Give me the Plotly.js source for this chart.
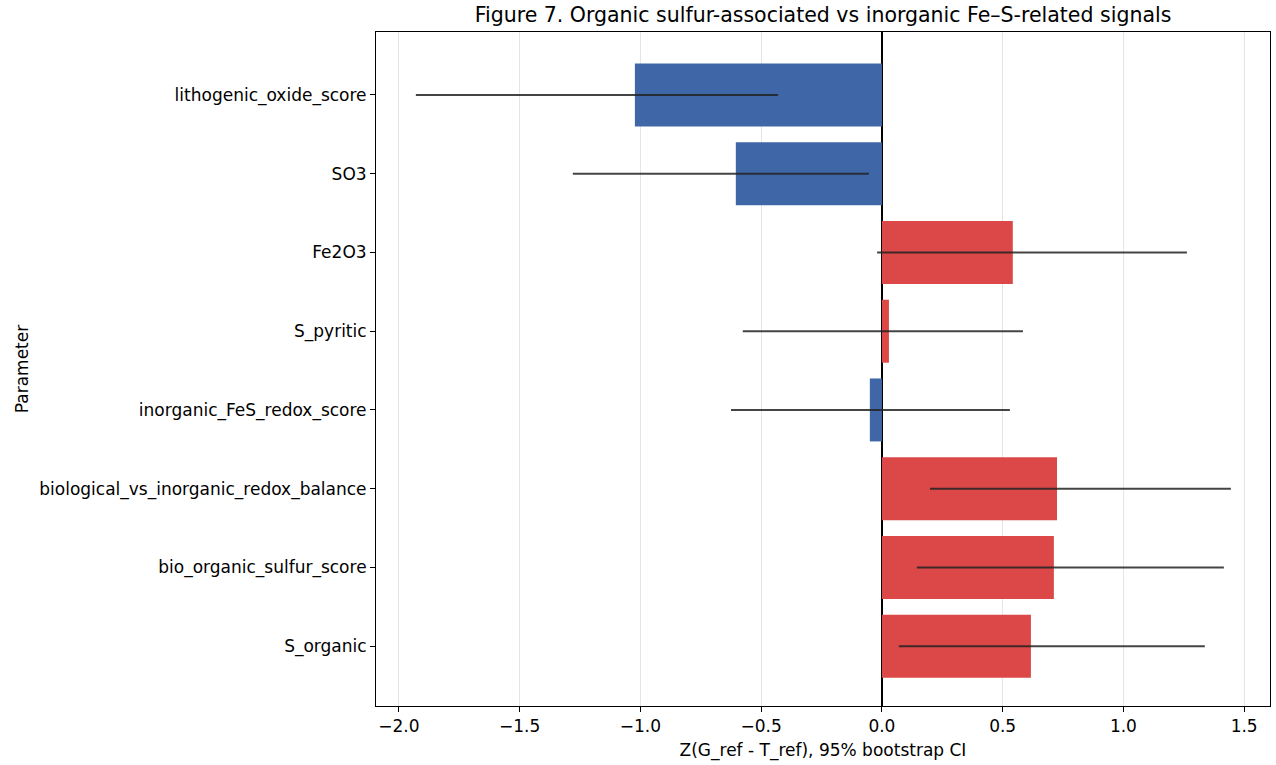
<!DOCTYPE html>
<html>
<head>
<meta charset="utf-8">
<script src="https://cdn.plot.ly/plotly-3.0.1.min.js"></script>
<style>html,body{margin:0;padding:0;background:#fff;}#chart{width:1276px;height:765px;}</style>
</head>
<body>
<div id="chart"></div>
<script>
const parameters = ["lithogenic_oxide_score","SO3","Fe2O3","S_pyritic","inorganic_FeS_redox_score","biological_vs_inorganic_redox_balance","bio_organic_sulfur_score","S_organic"];
const zValues = [-1.023, -0.605, 0.542, 0.029, -0.050, 0.725, 0.712, 0.617];
const ciLow   = [-1.930, -1.280, -0.020, -0.576, -0.625, 0.199, 0.145, 0.070];
const ciHigh  = [-0.430, -0.054, 1.263, 0.584, 0.530, 1.445, 1.416, 1.337];

const blue = "rgb(63,103,168)";
const red = "rgb(220,72,72)";
const colors = zValues.map(v => v < 0 ? blue : red);

const trace = {
  type: "bar",
  orientation: "h",
  y: parameters,
  x: zValues,
  width: 0.8,
  marker: {color: colors, line: {width: 0}},
  error_x: {
    type: "data",
    symmetric: false,
    array: zValues.map((v, i) => ciHigh[i] - v),
    arrayminus: zValues.map((v, i) => v - ciLow[i]),
    color: "rgba(35,35,35,0.85)",
    thickness: 2,
    width: 0
  },
  hoverinfo: "x+y"
};

const layout = {
  width: 1276,
  height: 765,
  margin: {l: 376, r: 6, t: 32, b: 59},
  paper_bgcolor: "#fff",
  plot_bgcolor: "#fff",
  font: {family: "DejaVu Sans, sans-serif", size: 17, color: "#000"},
  title: {text: "Figure 7. Organic sulfur-associated vs inorganic Fe–S-related signals", x: 0.5, xref: "paper", xanchor: "center", y: 1 - 15/765, yref: "container", yanchor: "middle", font: {size: 20.5, color: "#000"}},
  showlegend: false,
  bargap: 0.2,
  xaxis: {
    range: [-2.095, 1.607],
    tickvals: [-2, -1.5, -1, -0.5, 0, 0.5, 1, 1.5],
    ticktext: ["−2.0", "−1.5", "−1.0", "−0.5", "0.0", "0.5", "1.0", "1.5"],
    ticks: "outside", ticklen: 5, tickcolor: "#000", tickwidth: 1,
    showgrid: true, gridcolor: "rgba(0,0,0,0.1)", gridwidth: 1,
    zeroline: true, zerolinecolor: "#000", zerolinewidth: 1.6,
    showline: true, linecolor: "#000", linewidth: 1, mirror: true,
    title: {text: "Z(G_ref - T_ref), 95% bootstrap CI", font: {size: 17}, standoff: 8},
    tickfont: {size: 17}
  },
  yaxis: {
    type: "category",
    categoryorder: "array",
    categoryarray: parameters,
    range: [7.76, -0.8],
    ticks: "outside", ticklen: 5, tickcolor: "#000", tickwidth: 1,
    showgrid: false,
    showline: true, linecolor: "#000", linewidth: 1, mirror: true,
    title: {text: "Parameter", font: {size: 17}, standoff: 6},
    tickfont: {size: 17},
    automargin: false
  }
};

Plotly.newPlot("chart", [trace], layout, {displayModeBar: false, staticPlot: true});
</script>
</body>
</html>
